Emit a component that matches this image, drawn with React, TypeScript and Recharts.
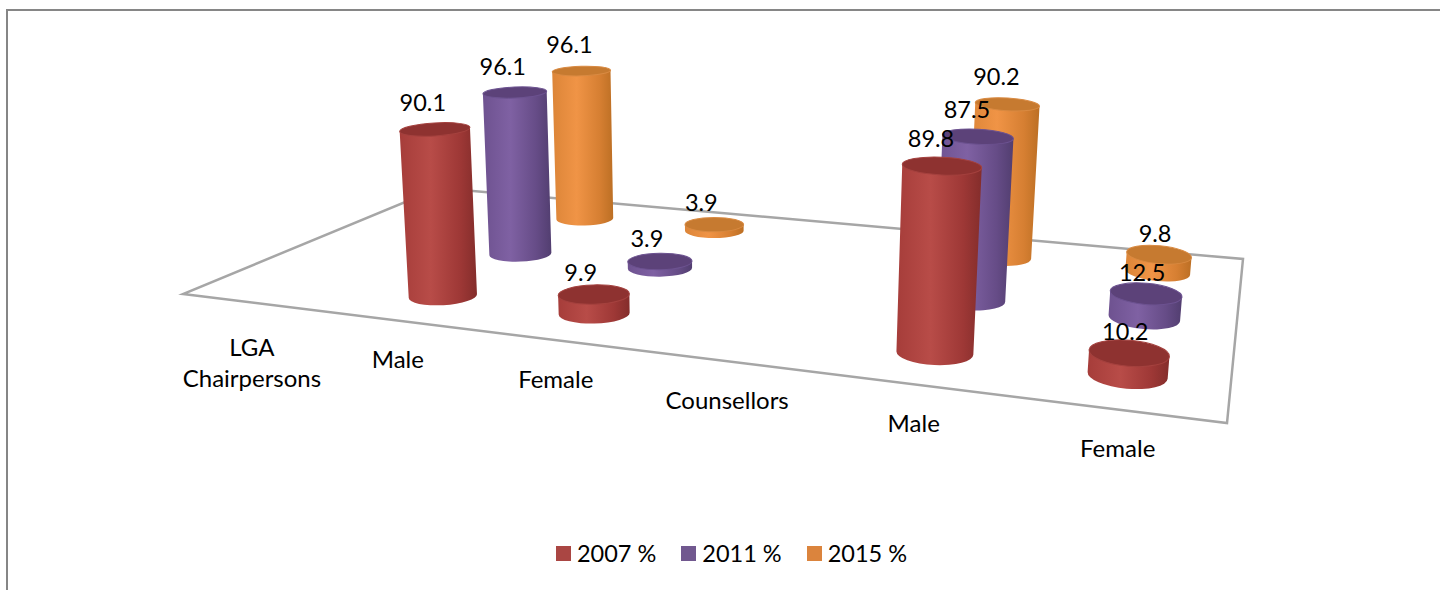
import { Bar, BarChart, Legend, XAxis, YAxis } from 'recharts';

const categories = ['LGA Chairpersons', 'Male', 'Female', 'Counsellors', 'Male', 'Female'];
const values2007 = [null, 90.1, 9.9, null, 89.8, 10.2];
const values2011 = [null, 96.1, 3.9, null, 87.5, 12.5];
const values2015 = [null, 96.1, 3.9, null, 90.2, 9.8];

const chartData = categories.map((name, i) => ({
  name,
  y2007: values2007[i],
  y2011: values2011[i],
  y2015: values2015[i],
}));

const WIDTH = 1440;
const HEIGHT = 590;
const FONT = 'Lato, "Open Sans", sans-serif';

// floor corners on screen: front-left, front-right, back-right, back-left
const [p0, p1, p2, p3] = [
  [183, 294],
  [1227, 423],
  [1243, 259],
  [439, 188],
];

// unit square -> floor quad
const dx1 = p1[0] - p2[0];
const dx2 = p3[0] - p2[0];
const sx = p0[0] - p1[0] + p2[0] - p3[0];
const dy1 = p1[1] - p2[1];
const dy2 = p3[1] - p2[1];
const sy = p0[1] - p1[1] + p2[1] - p3[1];
const det = dx1 * dy2 - dx2 * dy1;
const g = (sx * dy2 - dx2 * sy) / det;
const h = (dx1 * sy - sx * dy1) / det;

function project(s: number, t: number) {
  const w = g * s + h * t + 1;
  const x = (p1[0] - p0[0] + g * p1[0]) * s + (p3[0] - p0[0] + h * p3[0]) * t + p0[0];
  const y = (p1[1] - p0[1] + g * p1[1]) * s + (p3[1] - p0[1] + h * p3[1]) * t + p0[1];
  return { x: x / w, y: y / w, w };
}

const VANISH_X = 718;
const FULL_HEIGHT = 184; // screen px for 100 % at w = 1
const RADIUS = 34;

const shades: Record<string, { stops: string[]; top: string; rim: string }> = {
  y2007: { stops: ['#A63D3A', '#B84C48', '#9E3836', '#842D2B'], top: '#8E3230', rim: '#A4413E' },
  y2011: { stops: ['#6E5290', '#7F61A3', '#664C87', '#523E70'], top: '#5C4279', rim: '#6C5290' },
  y2015: { stops: ['#DC8538', '#F09446', '#D67F32', '#BC6F24'], top: '#C67A30', rim: '#D98A42' },
};

// nudge of the data label, per category
const labelDx = [0, -12, -13, 0, -11, -4];
const labelDy = [0, -27, -23, 0, -28, -22];

function flatness(x: number, y: number) {
  return 0.135 + 0.00048 * y + 0.00004 * (x - VANISH_X);
}

function Cylinder(props: any) {
  const { x, width, height, background, payload, dataKey, depth } = props;
  const value = payload?.[dataKey];
  if (value == null) return null;

  const plotH = background?.height ?? HEIGHT;
  const u = (x + width / 2) / (WIDTH / categories.length);
  const cat = Math.floor(u);
  const base = project(u / categories.length, depth);

  const hh = ((height / plotH) * FULL_HEIGHT) / base.w;
  const topY = base.y - hh;
  const topX = base.x + hh * (base.x - VANISH_X) * 0.000175;
  const rb = RADIUS / base.w;
  const rt = rb * (1 + hh * 0.00018);
  const ryb = rb * flatness(base.x, base.y);
  const ryt = rt * flatness(topX, topY);

  const deg = (base.x - VANISH_X) * 0.012;
  const c = Math.cos((deg * Math.PI) / 180);
  const s = Math.sin((deg * Math.PI) / 180);

  const body = [
    `M${topX - rt * c},${topY - rt * s}`,
    `L${base.x - rb * c},${base.y - rb * s}`,
    `A${rb},${ryb} ${deg} 0 0 ${base.x + rb * c},${base.y + rb * s}`,
    `L${topX + rt * c},${topY + rt * s}`,
    'Z',
  ].join(' ');

  return (
    <g>
      <path d={body} fill={`url(#body-${dataKey})`} />
      <ellipse
        cx={topX}
        cy={topY}
        rx={rt}
        ry={ryt}
        transform={`rotate(${deg} ${topX} ${topY})`}
        fill={shades[dataKey].top}
        stroke={shades[dataKey].rim}
        strokeWidth={1}
      />
      <text
        x={topX + labelDx[cat]}
        y={topY + labelDy[cat]}
        textAnchor="middle"
        dominantBaseline="central"
        fontFamily={FONT}
        fontSize={23.5}
        fill="#000"
      >
        {value}
      </text>
    </g>
  );
}

function CategoryTick(props: any) {
  const { x, payload } = props;
  const pos = project(x / WIDTH, 0);
  const words = String(payload.value).split(' ');
  const isLong = words.length > 1;
  return (
    <text textAnchor="middle" fontFamily={FONT} fontSize={24} fill="#000">
      {words.map((word, i) => (
        <tspan
          key={word}
          x={pos.x}
          y={pos.y + (isLong ? 44 + i * 31 : 38)}
          dominantBaseline="central"
        >
          {word}
        </tspan>
      ))}
    </text>
  );
}

function FloorOutline() {
  return (
    <polygon
      points={[p0, p1, p2, p3].map((p) => p.join(',')).join(' ')}
      fill="none"
      stroke="#A6A6A6"
      strokeWidth={2.5}
    />
  );
}

function LegendRow({ payload }: any) {
  return (
    <div style={{ display: 'flex', justifyContent: 'center', fontFamily: FONT, fontSize: 23.5, color: '#000', paddingLeft: 48 }}>
      {(payload ?? []).map((item: any) => (
        <div key={item.value} style={{ display: 'flex', alignItems: 'center', marginRight: 25 }}>
          <span style={{ width: 15, height: 15, background: item.color, marginRight: 6 }} />
          <span>{item.value}</span>
        </div>
      ))}
    </div>
  );
}

export default function App() {
  return (
    <div style={{ position: 'absolute', left: 0, top: 0, width: WIDTH, height: HEIGHT, overflow: 'hidden', background: '#fff' }}>
      <div style={{ position: 'absolute', left: 6, top: 9, right: 0, bottom: 0, borderLeft: '2px solid #868686', borderTop: '2px solid #868686' }} />
      <div style={{ position: 'absolute', left: 0, top: 0 }}>
        <BarChart
          width={WIDTH}
          height={HEIGHT}
          data={chartData}
          margin={{ top: 0, right: 0, bottom: 0, left: 0 }}
          barSize={100}
          barGap={-100}
        >
          <defs>
            {Object.keys(shades).map((key) => (
              <linearGradient key={key} id={`body-${key}`} x1="0" y1="0" x2="1" y2="0">
                <stop offset="0%" stopColor={shades[key].stops[0]} />
                <stop offset="40%" stopColor={shades[key].stops[1]} />
                <stop offset="78%" stopColor={shades[key].stops[2]} />
                <stop offset="100%" stopColor={shades[key].stops[3]} />
              </linearGradient>
            ))}
          </defs>
          <FloorOutline />
          <XAxis dataKey="name" interval={0} height={1} axisLine={false} tickLine={false} tick={<CategoryTick />} />
          <YAxis hide domain={[0, 100]} />
          <Legend
            content={<LegendRow />}
            wrapperStyle={{ position: 'absolute', left: 0, top: 539, width: WIDTH }}
          />
          {/* back row first so the front row paints over it */}
          <Bar dataKey="y2015" name="2015 %" fill="#DB843D" isAnimationActive={false} shape={(p: any) => <Cylinder {...p} dataKey="y2015" depth={5 / 6} />} />
          <Bar dataKey="y2011" name="2011 %" fill="#71588F" isAnimationActive={false} shape={(p: any) => <Cylinder {...p} dataKey="y2011" depth={3 / 6} />} />
          <Bar dataKey="y2007" name="2007 %" fill="#AA4643" isAnimationActive={false} shape={(p: any) => <Cylinder {...p} dataKey="y2007" depth={1 / 6} />} />
        </BarChart>
      </div>
    </div>
  );
}
